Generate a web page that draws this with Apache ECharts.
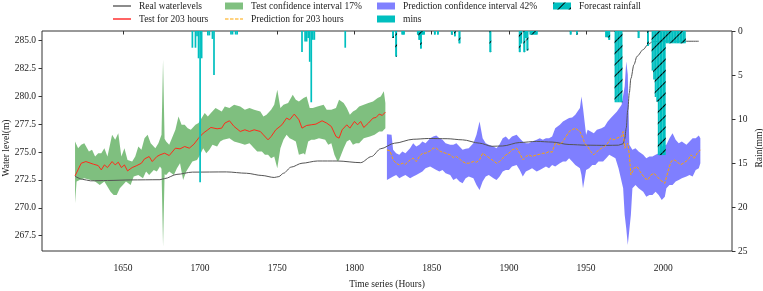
<!DOCTYPE html>
<html><head><meta charset="utf-8">
<script src="https://cdn.jsdelivr.net/npm/echarts@6/dist/echarts.min.js"></script>
<style>html,body{margin:0;padding:0;background:#fff}#c{width:763px;height:291px}</style>
</head><body><div id="c"></div>
<script>
// ---------- data ----------
const xTicks = [1650,1700,1750,1800,1850,1900,1950,2000];
const levelTicks = [267.5,270,272.5,275,277.5,280,282.5,285];
const rainTicks = [0,5,10,15,20,25];

const realLevel = [[1619,272.83],[1624,272.55],[1629,272.42],[1640,272.45],[1655,272.5],[1674,272.52],[1677,272.62],[1685,273.0],[1695,273.2],[1717,273.22],[1730,273.1],[1740,272.9],[1748,272.72],[1751,272.8],[1754,273.1],[1759,273.65],[1766,274.0],[1776,274.2],[1789,274.2],[1804,274.05],[1811,274.6],[1817,275.3],[1826,275.8],[1838,276.15],[1848,276.22],[1860,276.2],[1870,276.1],[1881,275.8],[1889,275.52],[1896,275.55],[1907,275.86],[1918,275.96],[1928,275.9],[1939,275.68],[1950,275.62],[1963,275.6],[1971,275.62],[1974,275.75],[1975,276.2],[1976,277.15],[1977,278.8],[1978,280.3],[1979,281.6],[1981,282.85],[1983,283.6],[1987,284.2],[1990,284.65],[1993,284.9],[2000,284.97],[2014,284.95],[2023,284.95]];

const testLine = [[1619,272.86],[1623,274.0],[1626,274.15],[1631,273.91],[1634,273.79],[1636,273.4],[1638,273.85],[1640,273.61],[1643,274.15],[1645,273.85],[1647,274.09],[1649,273.61],[1651,273.85],[1653,273.31],[1656,273.61],[1659,273.79],[1662,274.0],[1664,274.39],[1667,274.6],[1669,274.15],[1672,274.6],[1674,274.75],[1677,274.9],[1680,274.69],[1684,275.35],[1687,275.29],[1690,275.5],[1693,275.35],[1696,275.71],[1699,276.25],[1702,276.7],[1705,277.0],[1707,277.21],[1711,277.09],[1714,277.15],[1716,277.6],[1719,277.81],[1722,277.3],[1726,276.85],[1729,277.0],[1732,276.85],[1735,277.0],[1739,276.85],[1741,276.55],[1744,276.1],[1746,276.4],[1749,277.0],[1753,277.45],[1756,278.05],[1758,277.9],[1761,278.41],[1764,277.9],[1766,277.15],[1769,277.39],[1772,277.45],[1775,277.51],[1779,277.81],[1782,277.6],[1785,277.3],[1788,276.4],[1790,276.25],[1792,277.0],[1795,277.45],[1797,277.15],[1800,277.75],[1802,277.45],[1804,277.75],[1806,277.21],[1809,277.6],[1812,278.05],[1814,278.11],[1816,278.41],[1818,278.29],[1820,278.59]];

const testUpper = [[1619,275.95],[1621,275.35],[1623,275.65],[1625,275.8],[1628,275.05],[1630,275.2],[1632,274.6],[1634,274.9],[1636,274.9],[1638,275.35],[1640,274.6],[1643,276.55],[1645,276.1],[1647,276.7],[1649,274.6],[1651,275.35],[1653,274.3],[1656,274.15],[1658,274.6],[1660,275.5],[1662,275.2],[1664,276.25],[1666,276.55],[1668,275.8],[1671,275.35],[1673,275.8],[1675,276.55],[1676,283.29],[1677,276.2],[1678,275.95],[1680,275.65],[1684,277.0],[1686,278.2],[1688,277.45],[1690,277.45],[1692,277.15],[1694,277.0],[1697,277.45],[1699,277.6],[1701,278.05],[1703,278.5],[1705,278.2],[1707,278.5],[1710,278.95],[1712,278.8],[1714,278.65],[1716,279.1],[1719,278.95],[1722,279.25],[1726,279.1],[1729,278.8],[1732,278.95],[1735,278.8],[1739,278.65],[1741,278.2],[1743,278.35],[1746,278.8],[1748,279.25],[1750,280.6],[1752,278.95],[1754,279.25],[1757,279.4],[1760,280.15],[1762,279.7],[1764,279.55],[1767,279.85],[1769,279.99],[1771,278.95],[1773,278.95],[1776,279.1],[1780,279.25],[1782,278.8],[1785,278.8],[1788,278.95],[1790,279.7],[1793,279.4],[1795,278.95],[1797,278.35],[1799,278.65],[1801,278.8],[1803,279.1],[1806,279.25],[1809,279.4],[1812,279.55],[1815,279.85],[1817,279.99],[1819,280.45],[1820,279.4]];

const testLower = [[1619,270.4],[1620,272.35],[1622,272.5],[1625,272.65],[1629,272.5],[1632,272.35],[1635,272.05],[1638,272.35],[1642,271.45],[1644,271.15],[1646,271.15],[1648,271.75],[1650,272.05],[1652,272.35],[1655,272.05],[1657,272.8],[1660,272.95],[1663,272.65],[1665,273.25],[1667,272.95],[1670,273.4],[1672,273.25],[1674,273.7],[1675,273.5],[1676,266.51],[1677,273.0],[1678,272.95],[1680,273.25],[1683,272.95],[1685,273.55],[1687,274.0],[1689,272.5],[1691,273.25],[1693,273.7],[1695,274.15],[1698,274.3],[1700,274.75],[1702,275.35],[1704,274.9],[1706,275.2],[1708,275.65],[1711,275.5],[1713,275.95],[1715,276.1],[1719,276.25],[1722,275.95],[1726,275.8],[1729,275.65],[1732,275.8],[1735,275.35],[1737,275.05],[1740,275.05],[1742,274.75],[1744,274.75],[1746,274.45],[1748,274.6],[1750,273.55],[1752,275.35],[1754,276.1],[1756,276.55],[1758,276.25],[1760,276.1],[1762,275.95],[1764,274.75],[1767,274.9],[1768,274.75],[1770,275.95],[1772,276.1],[1774,276.1],[1777,276.25],[1781,276.1],[1783,275.65],[1785,275.8],[1787,274.75],[1789,274.15],[1790,274.3],[1793,275.35],[1795,275.95],[1797,276.1],[1799,275.65],[1801,275.8],[1803,275.8],[1806,276.25],[1810,276.4],[1813,276.55],[1816,276.85],[1818,276.85],[1820,277.15]];

const predLine = [[1821,275.2],[1823,275.11],[1825,274.3],[1827,274.0],[1829,273.85],[1831,274.0],[1833,273.91],[1836,274.3],[1838,274.45],[1840,274.15],[1842,274.6],[1844,274.9],[1846,274.9],[1849,275.11],[1851,275.35],[1853,275.35],[1855,275.11],[1857,274.99],[1859,274.9],[1862,274.75],[1864,274.51],[1866,274.6],[1868,274.39],[1870,274.15],[1872,274.0],[1874,274.0],[1877,274.15],[1879,274.09],[1881,274.3],[1883,274.9],[1885,274.69],[1887,274.51],[1890,274.21],[1892,274.0],[1894,274.15],[1896,274.45],[1898,274.75],[1900,274.9],[1902,275.2],[1905,275.35],[1907,274.9],[1909,274.3],[1911,274.6],[1913,274.75],[1915,274.6],[1918,274.75],[1920,274.81],[1922,274.9],[1924,274.9],[1926,275.05],[1928,274.99],[1930,275.8],[1933,275.65],[1935,275.95],[1937,276.4],[1939,276.85],[1941,277.0],[1943,277.15],[1946,276.85],[1948,276.25],[1949,275.8],[1951,275.5],[1953,275.05],[1955,274.75],[1957,275.05],[1960,275.35],[1962,275.5],[1964,275.8],[1966,276.25],[1968,276.1],[1970,276.25],[1973,276.4],[1974,276.85],[1975,275.35],[1977,275.8],[1978,274.75],[1979,272.95],[1981,273.55],[1983,273.7],[1985,273.25],[1988,272.65],[1990,272.5],[1992,272.95],[1994,273.1],[1996,272.8],[1998,272.5],[2001,272.2],[2003,273.25],[2005,274.15],[2007,274.3],[2009,274.15],[2011,273.85],[2013,274.0],[2016,274.3],[2018,274.75],[2020,274.45],[2022,274.9],[2024,275.2]];

const predUpper = [[1821,276.61],[1824,276.55],[1825,275.2],[1827,274.9],[1829,274.75],[1831,275.05],[1833,274.9],[1836,275.35],[1838,275.8],[1840,275.5],[1842,275.65],[1844,275.95],[1846,275.8],[1849,276.25],[1851,276.4],[1853,276.49],[1855,276.25],[1857,276.1],[1859,275.8],[1862,275.65],[1864,275.65],[1866,275.8],[1868,275.5],[1870,275.2],[1872,275.29],[1874,275.35],[1877,275.8],[1879,276.55],[1881,277.75],[1883,276.25],[1885,275.8],[1887,275.65],[1890,275.5],[1892,275.35],[1894,275.71],[1896,276.25],[1898,276.4],[1900,276.1],[1902,276.4],[1905,276.55],[1907,276.25],[1909,275.95],[1911,275.8],[1913,275.8],[1915,275.95],[1918,276.1],[1920,276.25],[1922,276.1],[1924,276.25],[1926,276.25],[1928,276.4],[1930,277.15],[1933,277.45],[1935,277.75],[1937,277.9],[1939,278.05],[1941,278.11],[1943,278.35],[1946,278.95],[1947,279.99],[1948,278.95],[1950,276.55],[1951,277.0],[1953,276.85],[1955,276.7],[1957,277.0],[1960,277.15],[1962,277.3],[1964,277.75],[1966,278.05],[1968,278.35],[1970,278.65],[1973,279.25],[1975,280.9],[1976,283.14],[1977,281.94],[1978,275.65],[1980,275.2],[1982,275.35],[1984,275.05],[1987,274.75],[1989,274.45],[1991,274.6],[1993,274.6],[1995,274.75],[1997,274.9],[1999,275.5],[2002,275.65],[2004,276.25],[2006,276.7],[2008,276.1],[2010,275.8],[2012,275.95],[2015,275.65],[2017,275.95],[2019,276.25],[2021,276.25],[2023,276.49],[2024,276.25]];

const predLower = [[1821,272.5],[1823,272.65],[1825,272.8],[1827,272.95],[1829,272.65],[1831,272.8],[1833,272.95],[1836,272.65],[1838,272.8],[1840,272.95],[1842,273.1],[1844,273.25],[1846,273.55],[1849,273.7],[1851,273.55],[1853,273.4],[1855,273.25],[1857,273.4],[1859,273.1],[1862,272.95],[1864,272.5],[1866,272.65],[1868,272.35],[1870,272.2],[1872,272.65],[1874,272.8],[1877,272.65],[1879,272.05],[1881,271.6],[1883,272.35],[1885,272.8],[1887,272.95],[1890,272.65],[1892,272.5],[1894,272.8],[1896,273.25],[1898,273.4],[1900,273.4],[1902,273.7],[1905,273.85],[1907,273.4],[1909,272.8],[1911,273.25],[1913,273.4],[1915,273.55],[1918,273.25],[1920,273.4],[1922,273.55],[1924,273.7],[1926,273.55],[1928,273.85],[1930,273.7],[1933,274.0],[1935,274.15],[1937,274.15],[1939,274.45],[1941,274.15],[1943,273.85],[1946,273.55],[1947,272.95],[1948,271.75],[1950,273.4],[1952,273.55],[1954,273.85],[1956,273.85],[1958,274.15],[1961,274.15],[1963,274.45],[1965,274.75],[1967,274.6],[1969,274.45],[1971,273.55],[1974,271.75],[1975,269.36],[1976,268.16],[1977,266.66],[1979,269.36],[1980,271.75],[1982,272.05],[1984,271.75],[1987,271.45],[1989,271.0],[1991,271.15],[1993,271.15],[1995,271.45],[1997,271.15],[1999,270.7],[2001,271.0],[2002,271.75],[2004,272.05],[2006,272.05],[2008,272.35],[2010,272.5],[2012,272.65],[2015,272.8],[2017,272.95],[2019,272.8],[2021,273.4],[2023,273.55],[2024,274.0]];

const rainMins = [[1695,1.9],[1697,1.9],[1698,0.6],[1699,3.1],[1700,17.2],[1701,3.1],[1705,0.5],[1706,0.5],[1708,0.9],[1709,5.0],[1720,0.4],[1721,0.4],[1723,0.4],[1724,0.4],[1766,2.4],[1768,1.2],[1769,1.2],[1770,0.8],[1771,3.5],[1772,8.1],[1773,1.0],[1774,1.0],[1794,1.9],[1825,0.8],[1827,2.9],[1831,0.4],[1832,0.4],[1841,0.4],[1842,1.0],[1843,2.0],[1844,0.4],[1845,0.4],[1852,0.4],[1854,0.4],[1863,0.4],[1865,0.6],[1868,1.4],[1888,2.4],[1907,2.4],[1908,1.4],[1910,2.4],[1911,0.8],[1912,2.2],[1914,0.4],[1915,0.4],[1916,0.4],[1917,0.4],[1918,0.4],[1940,0.4],[1944,0.4],[1963,0.7],[1964,0.7],[1965,1.0],[1984,0.8],[1990,1.7]];

const forecastRain = [[1825,0.8],[1827,2.9],[1831,0.4],[1832,0.4],[1841,0.4],[1842,1.0],[1843,2.0],[1844,0.4],[1845,0.4],[1852,0.4],[1854,0.4],[1863,0.4],[1865,0.6],[1868,1.4],[1888,2.4],[1907,2.4],[1908,1.4],[1910,2.4],[1911,0.8],[1912,2.2],[1914,0.4],[1915,0.4],[1916,0.4],[1917,0.4],[1918,0.4],[1940,0.4],[1944,0.4],[1963,0.7],[1964,0.7],[1965,1.0],[1969,8.1],[1970,8.1],[1971,8.1],[1972,8.1],[1973,8.1],[1984,0.8],[1990,1.7],[1993,4.5],[1994,5.5],[1995,7.5],[1996,8.0],[1997,14.1],[1998,14.1],[1999,14.1],[2000,14.1],[2001,14.1],[2002,1.4],[2003,1.4],[2004,1.4],[2005,1.4],[2006,1.4],[2007,1.4],[2008,1.4],[2009,1.4],[2010,1.4],[2011,1.4],[2012,1.4],[2013,1.4],[2014,1.4]];

// ---------- chart ----------
const FONT = 'Liberation Serif';
const TXT = '#222';
const hatch = { symbol: 'rect', symbolSize: 1, color: '#000', dashArrayX: [1, 0], dashArrayY: [1, 7], rotation: -Math.PI / 4 };

function band(name, upper, lower, color) {
  return {
    name, type: 'custom', data: upper, z: 1, silent: true,
    encode: { x: 0, y: 1 },
    renderItem: function (params, api) {
      if (params.dataIndex !== 0) return null;
      const pts = upper.map(p => api.coord(p)).concat(lower.slice().reverse().map(p => api.coord(p)));
      return { type: 'polygon', shape: { points: pts }, style: { fill: color } };
    }
  };
}

const legendText = { fontFamily: FONT, fontSize: 9.5, color: TXT, padding: [0, 0, 0, 3] };
function leg(name, left, top, icon, color, h) {
  return { left, top, padding: 0, itemWidth: 18, itemHeight: h, selectedMode: false,
    textStyle: legendText, data: [{ name, icon, itemStyle: { color } }] };
}
const dashIcon = 'path://M0,0h3.5v1h-3.5z M5,0h3.5v1h-3.5z M10,0h3.5v1h-3.5z M15,0h3v1h-3z';

const chart = echarts.init(document.getElementById('c'), null, { renderer: 'canvas' });
chart.setOption({
  animation: false,
  backgroundColor: '#fff',
  textStyle: { fontFamily: FONT },
  legend: [
    leg('Real waterlevels', 113, 1, 'rect', '#666', 1.5),
    leg('Test confidence interval 17%', 225, 1, 'rect', '#80c080', 7),
    leg('Prediction confidence interval 42%', 377, 1, 'rect', '#8080ff', 7),
    leg('Forecast rainfall', 553, 1, 'rect', '#00bfbf', 7),
    leg('Test for 203 hours', 113, 14, 'rect', '#ff3030', 1.5),
    leg('Prediction for 203 hours', 225, 14, dashIcon, '#ffa500', 1.5),
    leg('mins', 377, 14, 'rect', '#00bfbf', 7)
  ],
  grid: { left: 42, right: 31, top: 31, bottom: 40, show: true, borderColor: '#333', borderWidth: 1, outerBoundsMode: 'none' },
  xAxis: {
    type: 'value', min: 1597.6, max: 2044.5,
    name: 'Time series (Hours)', nameLocation: 'middle', nameGap: 28,
    nameTextStyle: { fontFamily: FONT, fontSize: 9.5, color: TXT },
    axisLine: { show: false },
    axisTick: { show: true, inside: false, length: 3.5, lineStyle: { color: '#333' }, customValues: xTicks },
    axisLabel: { fontFamily: FONT, fontSize: 9.5, color: TXT, margin: 12, customValues: xTicks, formatter: v => String(v) },
    splitLine: { show: false }
  },
  yAxis: [
    {
      type: 'value', min: 266.12, max: 285.87, position: 'left',
      name: 'Water level(m)', nameLocation: 'middle', nameGap: 31, nameRotate: 90, nameMoveOverlap: false,
      nameTextStyle: { fontFamily: FONT, fontSize: 9.5, color: TXT, padding: [0, 14, 0, 0] },
      axisLine: { show: false },
      axisTick: { show: true, length: 3.5, lineStyle: { color: '#333' }, customValues: levelTicks },
      axisLabel: { fontFamily: FONT, fontSize: 9.5, color: TXT, margin: 6, customValues: levelTicks, formatter: v => v.toFixed(1) },
      splitLine: { show: false }
    },
    {
      type: 'value', min: 0, max: 25, inverse: true, position: 'right',
      name: 'Rain(mm)', nameLocation: 'middle', nameGap: 22, nameRotate: 90, nameMoveOverlap: false,
      nameTextStyle: { fontFamily: FONT, fontSize: 9.5, color: TXT, padding: [0, 14, 0, 0] },
      axisLine: { show: false },
      axisTick: { show: true, length: 3.5, lineStyle: { color: '#333' }, customValues: rainTicks },
      axisLabel: { fontFamily: FONT, fontSize: 9.5, color: TXT, margin: 6, customValues: rainTicks },
      splitLine: { show: false }
    }
  ],
  series: [
    band('Test confidence interval 17%', testUpper, testLower, 'rgba(0,128,0,0.5)'),
    band('Prediction confidence interval 42%', predUpper, predLower, 'rgba(0,0,255,0.5)'),
    { name: 'Real waterlevels', type: 'line', data: realLevel, symbol: 'none', z: 3, smooth: 0.3, smoothMonotone: 'x',
      lineStyle: { color: '#555', width: 1 }, itemStyle: { color: '#666' } },
    { name: 'Test for 203 hours', type: 'line', data: testLine, symbol: 'none', z: 4,
      lineStyle: { color: '#ff2a1a', width: 1 }, itemStyle: { color: '#ff3030' } },
    { name: 'Prediction for 203 hours', type: 'line', data: predLine, symbol: 'none', z: 4,
      lineStyle: { color: '#ffa500', width: 1, type: [3, 1.5] }, itemStyle: { color: '#ffa500' } },
    { name: 'mins', type: 'bar', yAxisIndex: 1, data: rainMins, barWidth: 1.7, barGap: '-100%', z: 5,
      itemStyle: { color: '#00bfbf' } },
    { name: 'Forecast rainfall', type: 'bar', yAxisIndex: 1, data: forecastRain, barWidth: 1.7, barGap: '-100%', z: 6,
      itemStyle: { color: '#00bfbf', decal: hatch } }
  ]
});
</script>
</body></html>
